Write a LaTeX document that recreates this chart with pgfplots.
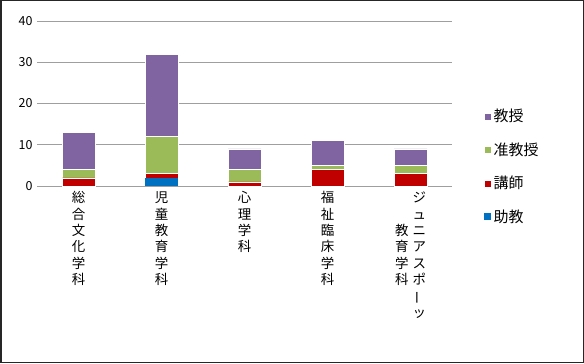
\documentclass[border=0pt]{standalone}
\usepackage{fontspec}
\setmainfont{Noto Sans CJK JP}
\usepackage{graphicx}
\usepackage{pgfplots}
\pgfplotsset{compat=1.18}
\definecolor{cKyoju}{HTML}{8064A2}
\definecolor{cJun}{HTML}{9BBB59}
\definecolor{cKoshi}{HTML}{C00000}
\definecolor{cJokyo}{HTML}{0070C0}
\newcommand\vcol[1]{\begin{tabular}[t]{@{}c@{}}#1\end{tabular}}
\begin{document}
\begin{tikzpicture}[x=1bp,y=1bp]
\draw[line width=1.5bp, color=black!85] (0.75,0.75) rectangle (583.25,362.25);
\begin{axis}[
  at={(37bp,177bp)}, anchor=south west,
  scale only axis, width=415bp, height=165bp,
  xmin=-0.5, xmax=4.5, ymin=0, ymax=40,
  ybar stacked, bar width=33bp,
  axis line style={draw=none},
  tick style={draw=none},
  ymajorgrids, grid style={color=gray!75, line width=1bp},
  ytick={0,10,20,30,40},
  /pgf/number format/assume math mode=true,
  yticklabel style={font=\fontsize{12.5}{14}\selectfont, xshift=-1bp},
  xtick={0,1,2,3,4},
  xticklabel style={font=\fontsize{13.5}{16.4}\selectfont, anchor=north, yshift=-2bp},
  xticklabels={
    {\vcol{総\\合\\文\\化\\学\\科}},
    {\vcol{児\\童\\教\\育\\学\\科}},
    {\vcol{心\\理\\学\\科}},
    {\vcol{福\\祉\\臨\\床\\学\\科}},
    {\vcol{\mbox{}\\\mbox{}\\教\\育\\学\\科}\hspace{4bp}\vcol{ジ\\ュ\\ニ\\ア\\ス\\ポ\\\rotatebox[origin=c]{90}{ー}\\ッ}}
  },
  reverse legend,
  legend style={draw=none, fill=none, at={(1.07,0.49)}, anchor=north west,
    font=\fontsize{15}{17}\selectfont, row sep=15.5bp,
    /tikz/every even column/.append style={column sep=3bp}},
  legend cell align=left,
  legend image code/.code={\fill[#1] (0bp,-3.5bp) rectangle (7bp,3.5bp);},
]
\addplot[fill=cJokyo, draw=none] coordinates {(0,0) (1,2) (2,0) (3,0) (4,0)};
\addplot[fill=cKoshi, draw=white, line width=0.5bp] coordinates {(0,2) (1,1) (2,1) (3,4) (4,3)};
\addplot[fill=cJun, draw=white, line width=0.5bp] coordinates {(0,2) (1,9) (2,3) (3,1) (4,2)};
\addplot[fill=cKyoju, draw=white, line width=0.5bp] coordinates {(0,9) (1,20) (2,5) (3,6) (4,4)};
\legend{助教,講師,准教授,教授}
\end{axis}
\end{tikzpicture}
\end{document}
